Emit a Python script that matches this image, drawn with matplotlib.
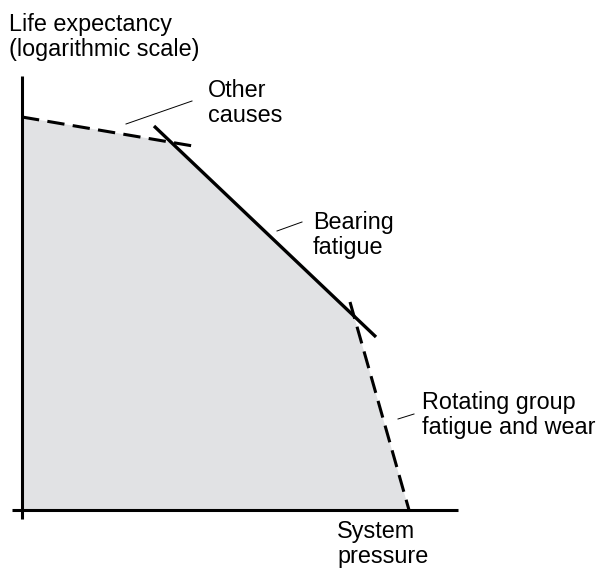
import numpy as np
import matplotlib.pyplot as plt

plt.rcParams['font.family'] = ['Liberation Sans', 'DejaVu Sans']
plt.rcParams['lines.scale_dashes'] = False

# schematic curves (x = system pressure, y = log life), origin at the axis corner
other_x = [0, 171]
other_y = [393, 364]
bearing_x = [132, 354]
bearing_y = [384, 173]
rotating_x = [328, 387]
rotating_y = [208, 0]

# leader lines for the labels
leader_other = ([104, 170], [386, 409])
leader_bearing = ([255, 280], [279, 288])
leader_rotating = ([376, 392], [91, 96])


def intersect(xa, ya, xb, yb):
    ma = (ya[1] - ya[0]) / (xa[1] - xa[0])
    mb = (yb[1] - yb[0]) / (xb[1] - xb[0])
    x = (yb[0] - ya[0] + ma * xa[0] - mb * xb[0]) / (ma - mb)
    return x, ya[0] + ma * (x - xa[0])


p1 = intersect(other_x, other_y, bearing_x, bearing_y)
p2 = intersect(bearing_x, bearing_y, rotating_x, rotating_y)
fill_x = [0, other_x[0], p1[0], p2[0], rotating_x[1], 0]
fill_y = [0, other_y[0], p1[1], p2[1], rotating_y[1], 0]

fig = plt.figure(figsize=(5.99, 5.72), dpi=100)
ax = fig.add_axes([0, 0, 1, 1])
ax.set_xlim(-22, 577)
ax.set_ylim(-62, 510)
ax.axis('off')

ax.fill(fill_x, fill_y, color='#e1e2e4', lw=0, zorder=1)

# axes
ax.plot([0, 0], [-9, 434], color='black', lw=2.2, solid_capstyle='butt', zorder=3)
ax.plot([-10, 436], [0, 0], color='black', lw=2.2, solid_capstyle='butt', zorder=3)

dash = (0, (12.5, 6))
ax.plot(other_x, other_y, color='black', lw=2.2, linestyle=dash, dash_capstyle='butt', zorder=2)
ax.plot(bearing_x, bearing_y, color='black', lw=2.4, solid_capstyle='butt', zorder=2)
ax.plot(rotating_x, rotating_y, color='black', lw=2.2, linestyle=dash, dash_capstyle='butt', zorder=2)

for lx, ly in (leader_other, leader_bearing, leader_rotating):
    ax.plot(lx, ly, color='black', lw=0.7, zorder=2)

fs = 16.8
ls = 1.13
ax.text(-13, 497, "Life expectancy\n(logarithmic scale)", fontsize=fs, va='top', ha='left', linespacing=ls)
ax.text(186, 431, "Other\ncauses", fontsize=fs, va='top', ha='left', linespacing=ls)
ax.text(291, 299, "Bearing\nfatigue", fontsize=fs, va='top', ha='left', linespacing=ls)
ax.text(400, 119, "Rotating group\nfatigue and wear", fontsize=fs, va='top', ha='left', linespacing=ls)
ax.text(315, -10, "System\npressure", fontsize=fs, va='top', ha='left', linespacing=ls)

fig.savefig('out.png', dpi=100)
